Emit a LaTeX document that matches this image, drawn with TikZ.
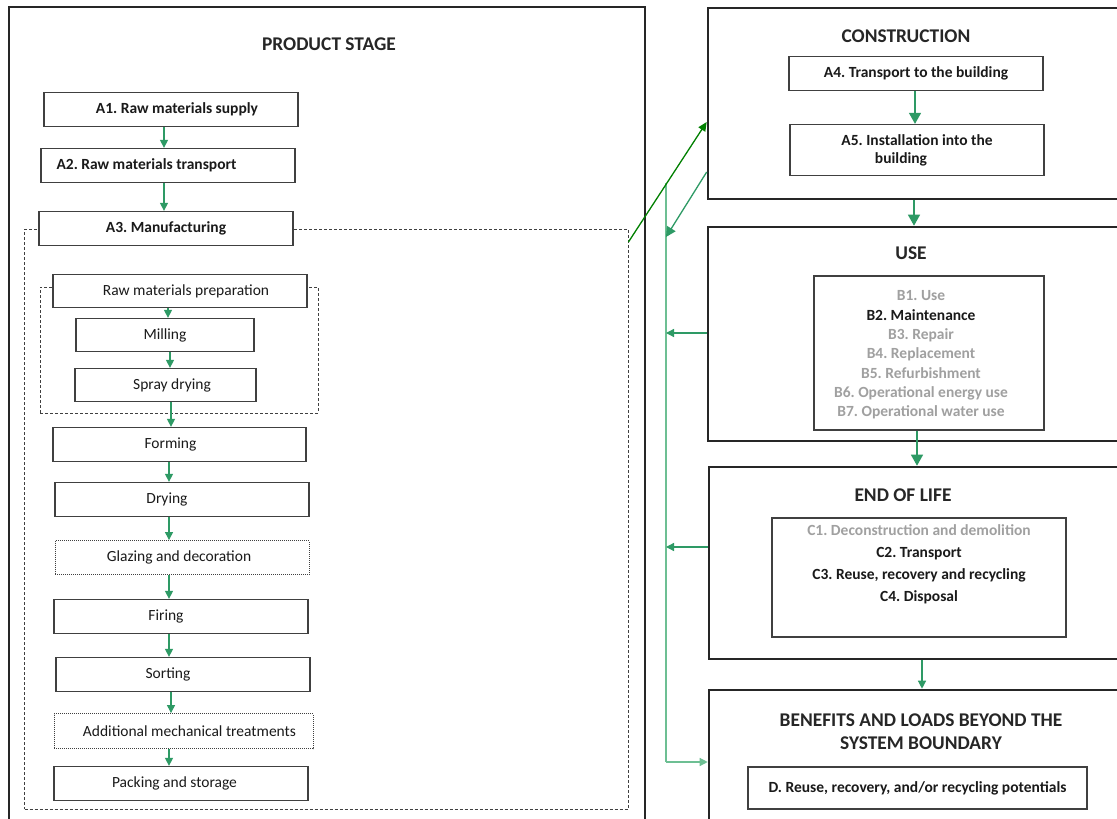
\documentclass[tikz,border=0pt]{standalone}
\usepackage{fontspec}
\setmainfont{Carlito}
\frenchspacing
\usetikzlibrary{arrows.meta}
\definecolor{boxgray}{HTML}{404040}
\definecolor{bigline}{HTML}{262626}
\definecolor{arrgreen}{HTML}{2E9A65}
\definecolor{lightgreen}{HTML}{6DBF93}
\definecolor{darkgreen}{HTML}{008000}
\definecolor{listgray}{HTML}{A0A0A0}
\definecolor{txt}{HTML}{1A1A1A}
\tikzset{
  pbox/.style={draw=boxgray, line width=1.3pt, fill=white, inner sep=0pt, minimum height=34pt, text=txt, font=\fontsize{15.5}{18}\selectfont},
  bbox/.style={pbox, font=\fontsize{15.5}{18}\selectfont\bfseries},
  dotbox/.style={pbox, draw=boxgray, line width=0.9pt, dash pattern=on 1pt off 1pt},
  bigbox/.style={draw=bigline, line width=2.6pt, inner sep=0pt},
  dashbox/.style={draw=boxgray, line width=0.9pt, dash pattern=on 3pt off 2pt, inner sep=0pt},
  ttl/.style={text=bigline, font=\fontsize{19.4}{23}\selectfont\bfseries, align=center, inner sep=0pt},
  listbox/.style={draw=boxgray, line width=1.2pt, inner sep=0pt},
  arr/.style={draw=arrgreen, line width=1.3pt, -{Triangle[length=8pt,width=8pt]}},
  arrbig/.style={draw=arrgreen, line width=1.3pt, -{Triangle[length=11pt,width=12pt]}}
}
\begin{document}
\begin{tikzpicture}[x=1pt,y=-1pt]
\clip (0,0) rectangle (1117,819);
\fill[white] (0,0) rectangle (1117,819);

% big frames
\node[bigbox, minimum width=636pt, minimum height=823pt] (prod) at (327,418.5) {};
\node[bigbox, minimum width=422pt, minimum height=191pt] (cons) at (919,103.5) {};
\node[bigbox, minimum width=422pt, minimum height=214pt] (use) at (919,334) {};
\node[bigbox, minimum width=421pt, minimum height=192pt] (eol) at (919.5,563) {};
\node[bigbox, minimum width=421pt, minimum height=140pt] (dbox) at (919.5,760) {};

% titles
\node[ttl] (prodt) at (329,44.5) {PRODUCT STAGE};
\node[ttl] (const) at (906,36.5) {CONSTRUCTION};
\node[ttl] (uset) at (911,253.5) {USE};
\node[ttl] (eolt) at (903,495.5) {END OF LIFE};
\node[ttl] (dt) at (921,732) {BENEFITS AND LOADS BEYOND THE\\SYSTEM BOUNDARY};

% dashed groups
\node[dashbox, minimum width=603.5pt, minimum height=580pt] (manuf) at (326.25,519) {};
\node[dashbox, minimum width=278pt, minimum height=126pt] (prep) at (179,350) {};

% product stage boxes
\node[bbox, minimum width=254pt] (A1) at (171,109.5) {\hspace*{12pt}A1. Raw materials supply};
\node[bbox, minimum width=254pt] (A2) at (168,165.5) {A2. Raw materials transport\hspace*{43pt}};
\node[bbox, minimum width=254pt] (A3) at (166,228.5) {A3. Manufacturing};
\node[pbox, minimum width=254pt, minimum height=33pt] (rmp) at (180,291) {\hspace*{12pt}Raw materials preparation};
\node[pbox, minimum width=178pt, minimum height=33pt] (mill) at (165,335) {Milling};
\node[pbox, minimum width=181pt, minimum height=33pt] (spray) at (165.5,385) {\hspace*{13pt}Spray drying};
\node[pbox, minimum width=253pt] (form) at (179.5,444.5) {Forming\hspace*{18pt}};
\node[pbox, minimum width=254pt] (dry) at (182,499.5) {Drying\hspace*{30pt}};
\node[dotbox, minimum width=254pt] (glaz) at (182,557.5) {Glazing and decoration\hspace*{6pt}};
\node[pbox, minimum width=254pt] (fire) at (181,616.5) {Firing\hspace*{30pt}};
\node[pbox, minimum width=254pt] (sort) at (183,674.5) {Sorting\hspace*{30pt}};
\node[dotbox, minimum width=259pt, minimum height=35pt] (addm) at (183.5,731) {\hspace*{12pt}Additional mechanical treatments};
\node[pbox, minimum width=254pt] (pack) at (181,783.5) {Packing and storage\hspace*{13pt}};

% product stage arrows
\draw[arr] (A1.south -| 164,0) -- (A2.north -| 164,0);
\draw[arr] (A2.south -| 164,0) -- (A3.north -| 164,0);
\draw[arr] (rmp.south -| 168,0) -- (mill.north -| 168,0);
\draw[arr] (mill.south -| 170,0) -- (spray.north -| 170,0);
\draw[arr] (spray.south -| 171,0) -- (form.north -| 171,0);
\draw[arr] (form.south -| 169,0) -- (dry.north -| 169,0);
\draw[arr] (dry.south -| 169,0) -- (glaz.north -| 169,0);
\draw[arr] (glaz.south -| 169,0) -- (fire.north -| 169,0);
\draw[arr] (fire.south -| 169,0) -- (sort.north -| 169,0);
\draw[arr] (sort.south -| 171,0) -- (addm.north -| 171,0);
\draw[arr] (addm.south -| 169,0) -- (pack.north -| 169,0);

% construction
\node[bbox, minimum width=254pt] (A4) at (916,73.5) {A4. Transport to the building};
\node[bbox, minimum width=254pt, minimum height=51pt, align=center] (A5) at (917,150) {A5. Installation into the\\building\hspace*{32pt}};
\draw[arrbig] (A4.south -| 915,0) -- (A5.north -| 915,0);
\draw[arrbig] (cons.south -| 914,0) -- (use.north -| 914,0);

% use list
\node[listbox, minimum width=230pt, minimum height=154pt] (uselbox) at (929,353) {};
\node[align=center, inner sep=0pt, font=\fontsize{15.5}{19.3}\selectfont\bfseries, text=listgray] (uselist) at (921,355) {B1. Use\\\textcolor{txt}{B2. Maintenance}\\B3. Repair\\B4. Replacement\\B5. Refurbishment\\B6. Operational energy use\\B7. Operational water use};
\draw[arrbig] (uselbox.south -| 917,0) -- (eol.north -| 917,0);

% end of life list
\node[listbox, minimum width=294pt, minimum height=119pt] (eollbox) at (919,577.5) {};
\node[align=center, inner sep=0pt, font=\fontsize{15.5}{22}\selectfont\bfseries, text=txt] (eollist) at (919,564) {\textcolor{listgray}{C1. Deconstruction and demolition}\\C2. Transport\\C3. Reuse, recovery and recycling\\C4. Disposal};
\draw[arr] (eol.south -| 922,0) -- (dbox.north -| 922,0);

% D
\node[bbox, minimum width=339pt, minimum height=42pt] (dinner) at (917.5,788) {D. Reuse, recovery, and/or recycling potentials};

% left connectors
\coordinate (vtop) at (666,183);
\coordinate (vbot) at (666,762);
\draw[draw=lightgreen, line width=1.3pt] (vtop) -- (vbot);
\draw[draw=darkgreen, line width=1.3pt, -{Triangle[length=9pt,width=8pt]}] (manuf.east |- 0,242) -- (cons.west |- 0,122);
\draw[arr, -{Triangle[length=10pt,width=10pt]}] (cons.west |- 0,172) -- (vtop |- 0,237);
\draw[arr] (use.west |- 0,333) -- (vtop |- 0,333);
\draw[arr] (eol.west |- 0,547) -- (vtop |- 0,547);
\draw[arr, draw=lightgreen] (vbot) -- (dbox.west |- vbot);
\end{tikzpicture}
\end{document}
